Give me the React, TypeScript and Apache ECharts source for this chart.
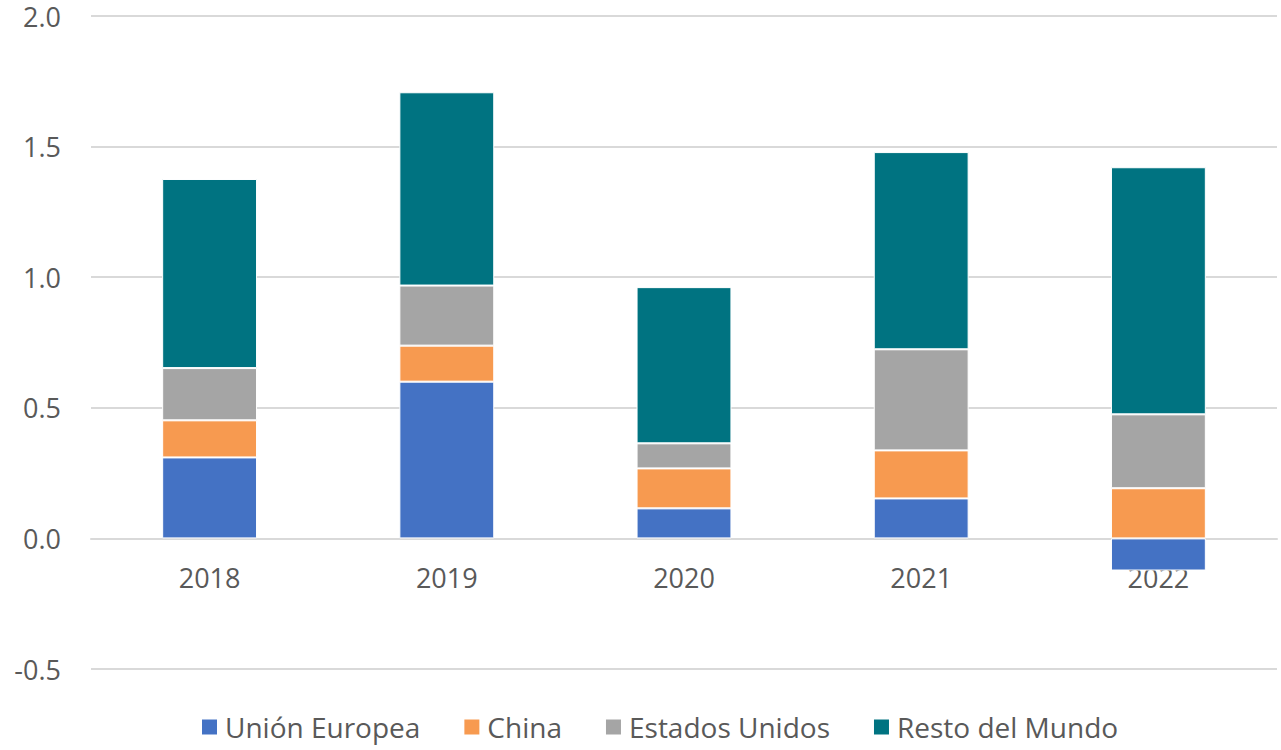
import React, { useEffect, useRef } from "react";
import * as echarts from "echarts";

const categories = ["2018", "2019", "2020", "2021", "2022"];
const seriesNames = ["Unión Europea", "China", "Estados Unidos", "Resto del Mundo"];
const ueValues = [0.31, 0.6, 0.115, 0.153, -0.123];
const chinaValues = [0.142, 0.138, 0.153, 0.184, 0.192];
const usValues = [0.2, 0.23, 0.096, 0.387, 0.283];
const restValues = [0.724, 0.74, 0.598, 0.755, 0.946];
const colors = ["#4472C4", "#F79A50", "#A5A5A5", "#007381"];

const Y_MIN = -0.5;
const Y_MAX = 2.0;

export default function App() {
  const ref = useRef<HTMLDivElement>(null);
  useEffect(() => {
    if (!ref.current) return;
    const chart = echarts.init(ref.current, null, { renderer: "svg" });
    const font = "'Open Sans', sans-serif";
    const data = [ueValues, chinaValues, usValues, restValues];
    const top = 16;
    const bottom = 81;
    const plotH = 750 - top - bottom;
    const zeroOffset = -(plotH * (0 - Y_MIN)) / (Y_MAX - Y_MIN);
    chart.setOption({
      animation: false,
      textStyle: { fontFamily: font },
      grid: { left: 91, right: 4, top, bottom, containLabel: false },
      legend: {
        bottom: 4,
        left: 195,
        itemWidth: 17,
        itemHeight: 17,
        itemGap: 42,
        icon: "rect",
        textStyle: { fontSize: 28, color: "#595959", fontFamily: font, padding: [0, 0, 0, 2] },
        data: seriesNames,
      },
      xAxis: {
        type: "category",
        data: categories,
        position: "bottom",
        offset: zeroOffset,
        axisLine: { show: true, onZero: false, lineStyle: { color: "#D9D9D9", width: 2 } },
        axisTick: { show: false },
        axisLabel: { fontSize: 27, color: "#595959", margin: 26, fontFamily: font },
      },
      yAxis: {
        type: "value",
        min: Y_MIN,
        max: Y_MAX,
        interval: 0.5,
        axisLine: { show: false },
        axisTick: { show: false },
        splitLine: { lineStyle: { color: "#D9D9D9", width: 2 } },
        axisLabel: {
          fontSize: 27,
          lineHeight: 26,
          color: "#595959",
          margin: 30,
          fontFamily: font,
          formatter: (v: number) => v.toFixed(1),
        },
      },
      series: seriesNames.map((name, i) => ({
        name,
        type: "bar",
        stack: "total",
        barWidth: "40%",
        data: data[i],
        itemStyle: { color: colors[i], borderColor: "#FFFFFF", borderWidth: 1 },
      })),
    });
    return () => chart.dispose();
  }, []);
  return <div ref={ref} style={{ width: 1281, height: 750, position: "absolute", left: 0, top: 0 }} />;
}
